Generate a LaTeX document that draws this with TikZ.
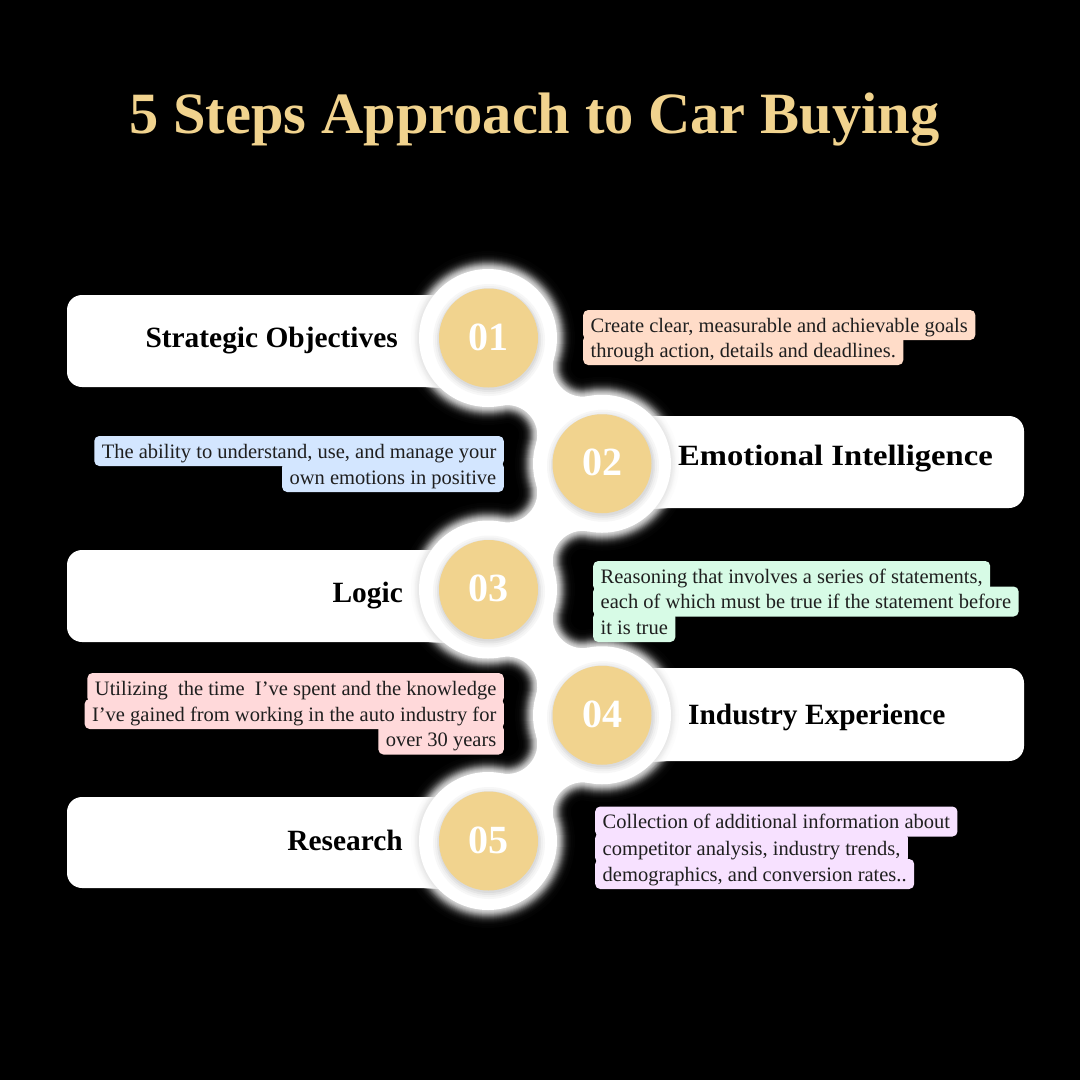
\documentclass[tikz,border=0pt]{standalone}
\usepackage{fontspec}
\setmainfont{Liberation Serif}
\definecolor{gold}{HTML}{F1D38E}
\definecolor{peach}{HTML}{FFDCC8}
\definecolor{skyb}{HTML}{D3E6FF}
\definecolor{mint}{HTML}{D7FBE6}
\definecolor{rosy}{HTML}{FFD9DA}
\definecolor{lilac}{HTML}{F7E1FF}
\newcommand\neckpath{(0,0) -- (66.05,19.96) .. controls (59.51,41.62) and (78.40,62.46) .. (100.60,58.06) -- (114,125.75) -- (47.95,105.79) .. controls (54.50,84.13) and (35.60,63.29) .. (13.40,67.69) -- cycle}
\newcommand\chainshape[1]{%
  \path[#1] (488,338) circle[radius=69] (602,463.75) circle[radius=69] (488,589.5) circle[radius=69] (602,715.25) circle[radius=69] (488,841) circle[radius=69];
  \path[#1,shift={(488,338)}] \neckpath;
  \path[#1,shift={(602,463.75)},xscale=-1] \neckpath;
  \path[#1,shift={(488,589.5)}] \neckpath;
  \path[#1,shift={(602,715.25)},xscale=-1] \neckpath;
}
\newcommand\barshapes{(67,295) rectangle (488,387) (602,416) rectangle (1024,508) (67,550) rectangle (488,642) (602,668) rectangle (1024,761) (67,797) rectangle (488,888)}
\tikzset{
  bar/.style={fill=white, rounded corners=15pt},
  goldc/.style={circle, fill=gold, minimum size=99pt, inner sep=0pt},
  numtxt/.style={text=white, font=\fontsize{40}{40}\selectfont\bfseries, inner sep=0pt},
  head/.style={text=black, font=\fontsize{29.4}{32}\selectfont\bfseries, inner sep=0pt},
  tline/.style={text=black!88, font=\fontsize{20.5}{24}\selectfont, inner xsep=7.5pt, inner ysep=3pt, text height=19pt, text depth=5pt, rounded corners=5pt},
  titletxt/.style={text=gold, font=\fontsize{58.5}{60}\selectfont\bfseries, inner sep=0pt}
}
\begin{document}
\begin{tikzpicture}[x=1pt,y=-1pt]
\fill[black] (0,0) rectangle (1080,1080);
\useasboundingbox (0,0) rectangle (1080,1080);
% title
\node[titletxt, anchor=base] (title) at (534.5,133) {5 Steps Approach to Car Buying};
% soft glow around the chain, on the black ground
\foreach \e in {18,17,...,1}{
  \pgfmathtruncatemacro\lev{round(82*exp(-(\e/8)^2))}
  \pgfmathsetmacro\lw{2*\e}
  \chainshape{draw=white!\lev!black, fill=white!\lev!black, line width=\lw pt, line join=round}
}
% bars
\fill[bar] \barshapes;
% faint shadow of the chain on the bars
\begin{scope}
  \clip[rounded corners=15pt] \barshapes;
  \foreach \e in {10,9,...,1}{
    \pgfmathtruncatemacro\lev{round(9*exp(-(\e/5)^2))}
    \pgfmathsetmacro\lw{2*\e}
    \chainshape{draw=black!\lev!white, fill=black!\lev!white, line width=\lw pt, line join=round}
  }
\end{scope}
\chainshape{fill=white}
% soft shadows of the gold circles
\foreach \cx/\cy in {488/338, 602/463.75, 488/589.5, 602/715.25, 488/841}{
  \fill[black!3] (\cx+1,\cy+2) circle[radius=56];
  \fill[black!6] (\cx+1,\cy+2) circle[radius=54];
  \fill[black!10] (\cx+1,\cy+2) circle[radius=52];
  \fill[black!14] (\cx+1,\cy+1.5) circle[radius=50.5];
}
% gold circles
\node[goldc] (c1) at (488.5,338) {};
\node[goldc] (c2) at (602,463.75) {};
\node[goldc] (c3) at (488.5,589.5) {};
\node[goldc] (c4) at (602,715.25) {};
\node[goldc] (c5) at (488.5,841) {};
\node[numtxt, anchor=base] (n1) at (488.5,350) {01};
\node[numtxt, anchor=base] (n2) at (602,475.5) {02};
\node[numtxt, anchor=base] (n3) at (488.5,601.5) {03};
\node[numtxt, anchor=base] (n4) at (602,727) {04};
\node[numtxt, anchor=base] (n5) at (488.5,853) {05};
% headings
\node[head, anchor=base east] (h1) at (398,347) {Strategic Objectives};
\node[head, anchor=base west] (h2) at (678,465) {\scalebox{1.11}[1]{Emotional Intelligence}};
\node[head, anchor=base east] (h3) at (403,602) {Logic};
\node[head, anchor=base west] (h4) at (688,724) {Industry Experience};
\node[head, anchor=base east] (h5) at (403,850) {Research};
% description 1
\node[tline, fill=peach, anchor=base west] (d1b) at (583,357) {through action, details and deadlines.};
\node[tline, fill=peach, anchor=base west] (d1a) at (583,332) {Create clear, measurable and achievable goals};
% description 2
\node[tline, fill=skyb, anchor=base east] (d2b) at (504,484) {own emotions in positive};
\node[tline, fill=skyb, anchor=base east] (d2a) at (504,458) {The ability to understand, use, and manage your};
% description 3
\node[tline, fill=mint, anchor=base west] (d3c) at (593,634) {it is true};
\node[tline, fill=mint, anchor=base west] (d3b) at (593,608.5) {each of which must be true if the statement before};
\node[tline, fill=mint, anchor=base west] (d3a) at (593,583) {Reasoning that involves a series of statements,};
% description 4
\node[tline, fill=rosy, anchor=base east] (d4c) at (504,746.5) {over 30 years};
\node[tline, fill=rosy, anchor=base east] (d4b) at (504,721) {I’ve gained from working in the auto industry for};
\node[tline, fill=rosy, anchor=base east] (d4a) at (504,695) {Utilizing\ \ the time\ \ I’ve spent and the knowledge};
% description 5
\node[tline, fill=lilac, anchor=base west] (d5c) at (595,881) {demographics, and conversion rates..};
\node[tline, fill=lilac, anchor=base west] (d5b) at (595,855) {competitor analysis, industry trends,};
\node[tline, fill=lilac, anchor=base west] (d5a) at (595,828.5) {Collection of additional information about};
\end{tikzpicture}
\end{document}
